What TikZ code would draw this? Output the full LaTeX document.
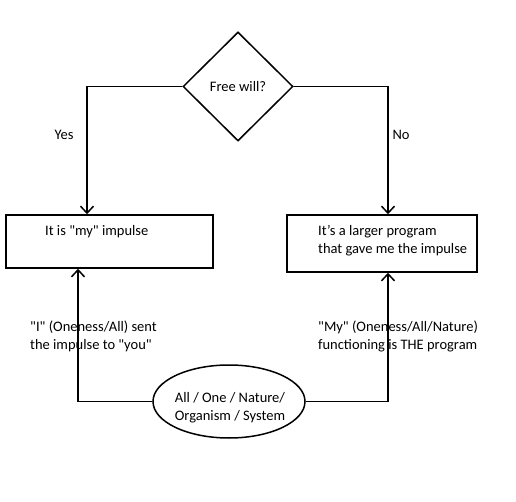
\documentclass[tikz,border=0pt]{standalone}
\usepackage{fontspec}
\setmainfont{Carlito}
\usetikzlibrary{calc}
\usetikzlibrary{arrows.meta}
\usetikzlibrary{shapes.geometric}

\tikzset{
  decision/.style={draw, line width=1.5pt, diamond, minimum width=110pt, minimum height=109pt, inner sep=0pt},
  block/.style={draw, line width=1.5pt, rectangle, inner sep=0pt},
  source/.style={draw, line width=1.5pt, ellipse, minimum width=152pt, minimum height=73pt, inner sep=0pt},
  flow/.style={line width=1.5pt, -{Straight Barb[length=7pt, width=13pt]}},
  note/.style={align=left, inner sep=0pt, font=\fontsize{14.5}{18}\selectfont}
}

\begin{document}
\begin{tikzpicture}[x=1pt, y=-1pt, font=\fontsize{14.5}{18}\selectfont]
\useasboundingbox (0,0) rectangle (516,502);

\node[decision] (will) at (238,86.5) {Free will?};
\node[block, minimum width=207pt, minimum height=53pt] (mine) at (109.5,241.5) {};
\node[block, minimum width=190pt, minimum height=57pt] (prog) at (382,243.5) {};
\node[source] (all) at (229,401.5) {};

\node[note, anchor=west] (minetxt) at (45,232) {It is \textquotedbl my\textquotedbl\ impulse};
\node[note, anchor=west] (progtxt) at (318,241) {It’s a larger program\\that gave me the impulse};
\node[note, align=center] (alltxt) at (230,408) {All / One / Nature/\\Organism / System};

\node[note] (yes) at (64,135) {Yes};
\node[note] (no) at (401,135) {No};
\node[note, anchor=west] (sent) at (30,336) {\textquotedbl I\textquotedbl\ (Oneness/All) sent\\the impulse to \textquotedbl you\textquotedbl};
\node[note, anchor=west] (func) at (318,336) {\textquotedbl My\textquotedbl\ (Oneness/All/Nature)\\functioning is THE program};

% decision
\draw[flow] (will.west) -| ([xshift=-22.5pt]mine.north);
\draw[flow] (will.east) -| ([xshift=6pt]prog.north);

% from below
\draw[flow] (all.west) -| ([xshift=-31.5pt]mine.south);
\draw[flow] (all.east) -| ([xshift=6pt]prog.south);

\end{tikzpicture}
\end{document}
